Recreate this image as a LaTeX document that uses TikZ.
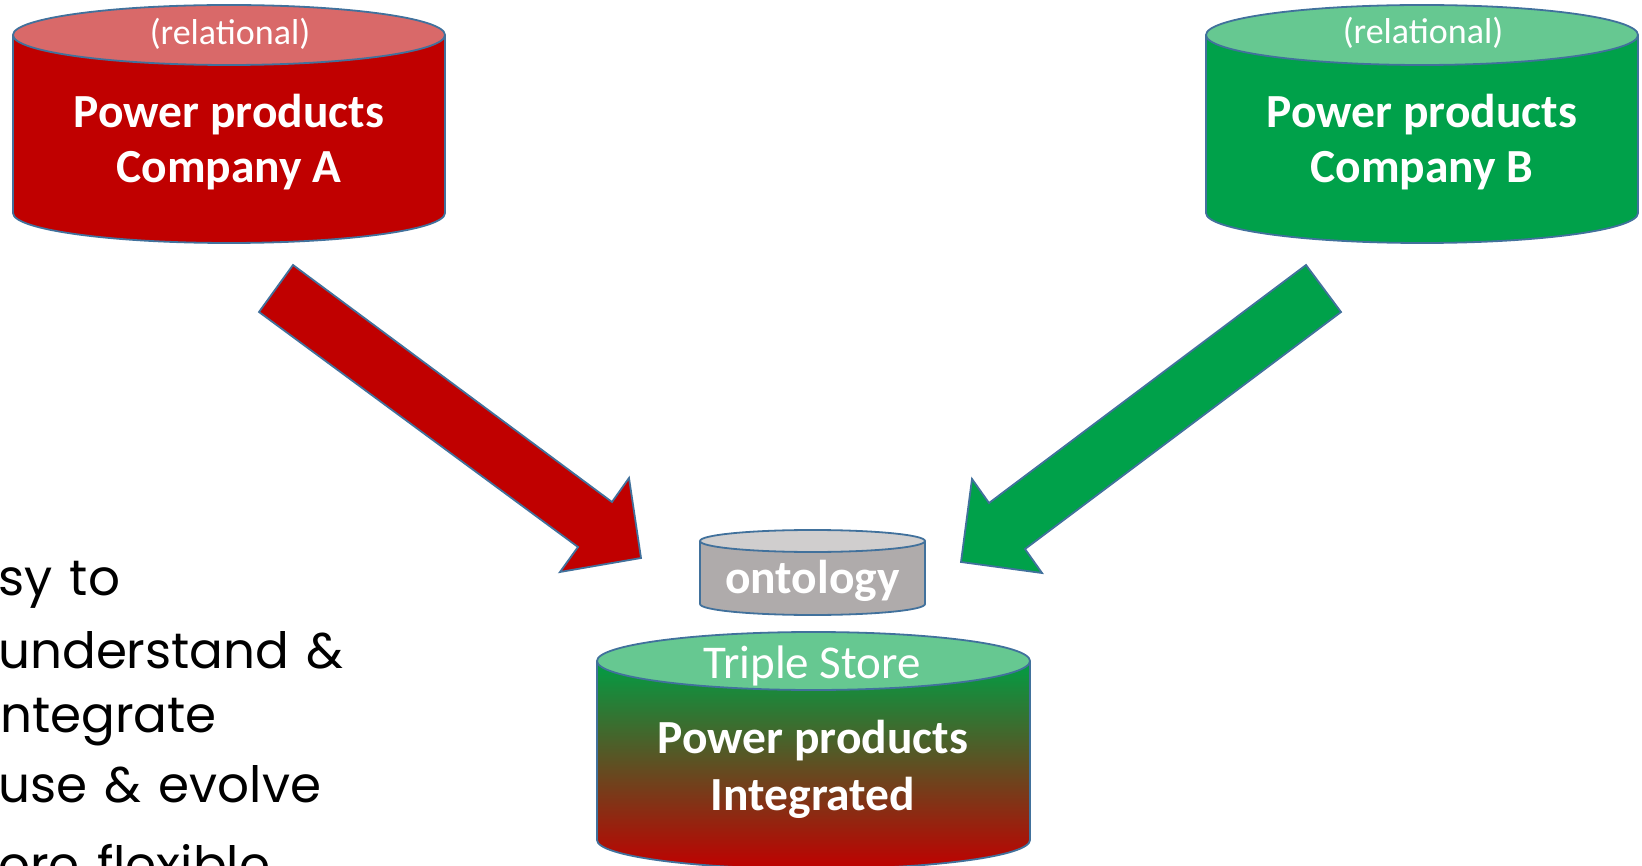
\documentclass[tikz,border=0pt]{standalone}
\usepackage{fontspec}
\setmainfont{Carlito}
\newfontfamily\handfont[WordSpace=1.3]{Poppins}

\definecolor{edgeblue}{RGB}{65,113,156}
\definecolor{redbody}{RGB}{192,0,0}
\definecolor{redtop}{RGB}{217,105,105}
\definecolor{greenbody}{RGB}{0,161,74}
\definecolor{greentop}{RGB}{102,200,145}
\definecolor{greybody}{RGB}{175,171,171}
\definecolor{greytop}{RGB}{208,206,206}
\definecolor{shadegreen}{RGB}{0,158,68}

% cylinder: centre x, top-ellipse y, bottom-ellipse y, x radius, y radius, body fill options, top colour
% (the y axis points down, so the lower half of an ellipse runs from 180 down to 0 degrees)
\newcommand\drawcyl[7]{%
  \path[#6] (#1-#4,#2) -- (#1-#4,#3)
     arc[start angle=180,end angle=0,x radius=#4,y radius=#5] -- (#1+#4,#2) -- cycle;
  \draw[outline] (#1-#4,#2) -- (#1-#4,#3)
     arc[start angle=180,end angle=0,x radius=#4,y radius=#5] -- (#1+#4,#2);
  \draw[outline,fill=#7] (#1,#2) ellipse[x radius=#4,y radius=#5];
}

\begin{document}
\begin{tikzpicture}[x=1pt,y=-1pt]
\tikzset{
  outline/.style={draw=edgeblue,line width=1.8pt},
  blockarrow/.style={outline,line join=miter},
  dbtitle/.style={font=\fontsize{47.5}{54}\bfseries\selectfont,text=white,anchor=base,inner sep=0pt},
  dbnote/.style={font=\fontsize{36}{42}\selectfont,text=white,anchor=base,inner sep=0pt},
  handtext/.style={font=\handfont\fontsize{50}{56}\selectfont,anchor=base west,inner sep=0pt},
}
\useasboundingbox (0,0) rectangle (1642,866);

% source database A
\drawcyl{229}{35}{213}{216}{30}{fill=redbody}{redtop}
\node[dbnote]  (noteA)  at (230,45)  {(relational)};
\node[dbtitle] (titleA) at (229,128) {Power products};
\node[dbtitle] (compA)  at (229,183) {Company A};

% source database B
\drawcyl{1422}{35}{213}{216}{30}{fill=greenbody}{greentop}
\node[dbnote]  (noteB)  at (1423,44)  {(relational)};
\node[dbtitle] (titleB) at (1422,128) {Power products};
\node[dbtitle] (compB)  at (1422,183) {Company B};

% ontology
\drawcyl{812.5}{541}{604}{112.5}{11}{fill=greybody}{greytop}
\node[dbtitle] (onto) at (812.5,593) {ontology};

% integrated triple store
\drawcyl{813.5}{661}{840}{216.5}{29}{top color=shadegreen,bottom color=redbody}{greentop}
\node[dbnote,font=\fontsize{47}{54}\selectfont] (store) at (812,678) {Triple Store};
\node[dbtitle] (titleI) at (813,753) {Power products};
\node[dbtitle] (integ)  at (813,810) {Integrated};

% block arrows into the store
\draw[blockarrow,fill=redbody]
  (293,265) -- (612,502) -- (629,478) -- (641,558) -- (560,572) -- (578,547) -- (259,312) -- cycle;
\draw[blockarrow,fill=greenbody]
  (1306,265) -- (989,503) -- (972,479) -- (961,562) -- (1042,573) -- (1025,549) -- (1341,312) -- cycle;

% benefits list
\begin{scope}
\clip (0,0) rectangle (1642,866);
\node[handtext] (l1) at (-2,595) {sy to};
\node[handtext] (l2) at (-2,668) {understand \&};
\node[handtext] (l3) at (0,732)  {ntegrate};
\node[handtext] (l4) at (-2,802) {use \& evolve};
\node[handtext] (l5) at (-2,882) {ore flexible};
\end{scope}
\end{tikzpicture}
\end{document}
